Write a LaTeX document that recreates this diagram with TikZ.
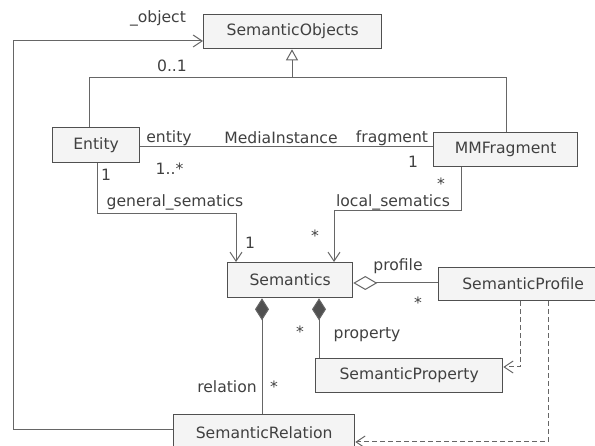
\documentclass[tikz,border=0pt]{standalone}
\usepackage{fontspec}
\setmainfont{DejaVu Sans}
\usetikzlibrary{arrows.meta}
\definecolor{linec}{HTML}{666666}
\definecolor{boxc}{HTML}{505050}
\definecolor{fillc}{HTML}{F4F4F4}
\definecolor{txtc}{HTML}{404040}
\begin{document}
\begin{tikzpicture}[x=1pt,y=-1pt,
  font=\fontsize{15.6}{18}\selectfont, text=txtc,
  cls/.style n args={2}{draw=boxc, fill=fillc, line width=1.3pt, anchor=north west,
     inner sep=0pt, minimum width=#1 pt, minimum height=#2 pt},
  lbl/.style={inner sep=0pt},
  conn/.style={draw=linec, line width=1pt},
  dep/.style={draw=linec, line width=1pt, dash pattern=on 5pt off 3pt,
     -{Straight Barb[length=9pt,width=12pt]}},
  openarr/.style={-{Straight Barb[length=9pt,width=12pt]}}]
\path[use as bounding box] (0,0) rectangle (595,446);
\clip (0,0) rectangle (595,446);
% classes
\node[cls={178}{34}] (so) at (203,14) {SemanticObjects};
\node[cls={87}{35}] (ent) at (52,127) {Entity};
\node[cls={144}{34}] (mm) at (433,132) {MMFragment};
\node[cls={125}{35}] (sem) at (227,262) {Semantics};
\node[cls={169}{33}] (sp) at (438,267) {SemanticProfile};
\node[cls={187}{34}] (prop) at (315,358) {SemanticProperty};
\node[cls={181}{36}] (rel) at (173,414) {SemanticRelation};
% generalization
\coordinate (gL) at (89,78);
\coordinate (gR) at (506,78);
\coordinate (gM) at (292,78);
\draw[conn] (ent.north -| gL) -- (gL) -- (gR) -- (mm.north -| gR);
\draw[conn,-{Triangle[open,fill=white,length=11pt,width=12pt]}] (gM) -- (so.south -| gM);
% association Entity - MMFragment
\coordinate (aY) at (0,147);
\draw[conn] (ent.east |- aY) -- (mm.west |- aY);
% general_sematics
\coordinate (gs1) at (97,214);
\coordinate (gs2) at (236,214);
\draw[conn,openarr] (ent.south -| gs1) -- (gs1) -- (gs2) -- (sem.north -| gs2);
% local_sematics
\coordinate (ls1) at (461,211);
\coordinate (ls2) at (334,211);
\draw[conn,openarr] (mm.south -| ls1) -- (ls1) -- (ls2) -- (sem.north -| ls2);
% aggregation profile
\coordinate (ag) at (0,283);
\draw[conn,{Diamond[open,fill=white,length=24pt,width=14pt]}-] (sem.east |- ag) -- (sp.west |- ag);
% compositions
\coordinate (c1) at (262,0);
\coordinate (c2) at (319,0);
\draw[conn,{Diamond[fill=boxc,length=22pt,width=14pt]}-] (sem.south -| c1) -- (rel.north -| c1);
\draw[conn,{Diamond[fill=boxc,length=22pt,width=14pt]}-] (sem.south -| c2) -- (prop.north -| c2);
% dependencies
\coordinate (d1) at (520,367);
\coordinate (d2) at (548,442);
\draw[dep] (sp.south -| d1) -- (d1) -- (prop.east |- d1);
\draw[dep] (sp.south -| d2) -- (d2) -- (rel.east |- d2);
% _object
\coordinate (o1) at (13,430);
\coordinate (o2) at (13,41);
\draw[conn,openarr] (rel.west |- o1) -- (o1) -- (o2) -- (so.west |- o2);
% labels
\node[lbl] (lobj) at (158,18) {\_object};
\node[lbl] (l01) at (172,66) {0..1};
\node[lbl] (lent) at (169,138) {entity};
\node[lbl] (lmi) at (281,138) {MediaInstance};
\node[lbl] (lfr) at (392,138) {fragment};
\node[lbl] (lone1) at (413,162) {1};
\node[lbl] (lmany) at (169.5,169) {1..*};
\node[lbl] (lone2) at (106,175) {1};
\node[lbl] (lgs) at (175,202) {general\_sematics};
\node[lbl] (lone3) at (250,243) {1};
\node[lbl] (lst1) at (441,184) {*};
\node[lbl] (lls) at (393,202) {local\_sematics};
\node[lbl] (lst2) at (315,236) {*};
\node[lbl] (lprof) at (398,266) {profile};
\node[lbl] (lst3) at (418,303) {*};
\node[lbl] (lst4) at (300,332) {*};
\node[lbl] (lprop) at (367,335) {property};
\node[lbl] (lrel) at (227,387) {relation};
\node[lbl] (lst5) at (274,387) {*};
\end{tikzpicture}
\end{document}
